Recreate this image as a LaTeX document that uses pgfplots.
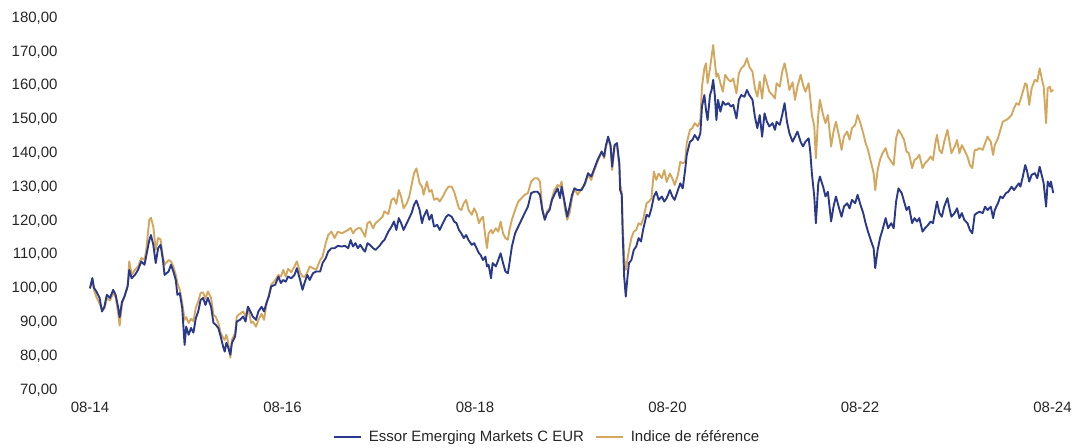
\documentclass[border=0pt]{standalone}
\usepackage{fontspec}
\setmainfont{Liberation Sans}
\usepackage{pgfplots}
\usepackage{pgfplotstable}
\pgfplotsset{compat=1.18}

\definecolor{fundblue}{RGB}{43,57,138}
\definecolor{indexgold}{RGB}{212,167,95}

% months since 08-14, fund, benchmark (base 100)
\pgfplotstableread{
m fund idx
0.0 100.0 100.0
0.3 103.1 102.5
0.5 100.2 99.5
0.8 99.1 97.5
1.2 97.2 95.5
1.5 93.2 93.7
1.8 94.6 94.0
2.1 98.1 97.0
2.5 97.2 96.5
2.9 99.6 98.6
3.2 98.1 97.5
3.5 94.6 93.0
3.7 91.5 89.0
4.0 96.1 95.5
4.3 97.6 97.5
4.7 100.6 101.0
4.9 105.5 108.0
5.2 103.0 104.0
5.6 104.0 105.5
6.0 105.5 106.5
6.4 108.0 109.0
6.8 107.0 108.5
7.0 109.4 111.0
7.4 114.3 120.3
7.6 115.8 120.9
7.9 112.9 118.3
8.2 107.5 111.4
8.5 111.9 114.9
8.8 112.9 114.5
9.1 108.4 109.4
9.3 104.0 107.0
9.8 105.0 108.4
10.1 107.0 108.0
10.4 105.0 106.5
10.7 102.5 104.0
10.9 98.1 101.6
11.2 98.6 99.6
11.5 94.2 95.7
11.8 83.3 90.7
12.0 88.7 91.5
12.3 86.3 89.8
12.6 88.3 91.0
12.9 86.9 90.3
13.2 91.2 94.3
13.5 93.2 96.1
13.8 96.6 98.7
14.1 97.2 98.8
14.4 95.1 97.0
14.7 97.2 99.1
15.1 94.6 97.2
15.4 89.8 92.2
15.7 89.2 91.5
16.0 88.3 89.8
16.3 85.8 86.9
16.6 82.8 85.4
16.8 81.3 84.8
17.0 83.9 86.3
17.2 82.8 84.5
17.5 80.4 79.5
17.7 83.9 84.8
18.1 85.8 86.9
18.3 90.2 91.7
18.7 90.7 92.5
19.1 91.7 93.2
19.4 90.2 91.7
19.7 94.6 94.6
20.1 92.7 89.8
20.3 91.7 90.2
20.7 90.7 88.7
21.0 93.2 90.7
21.4 94.6 92.5
21.7 93.2 90.7
22.0 95.7 95.2
22.3 97.6 98.1
22.6 100.6 101.1
23.1 101.1 102.5
23.5 103.5 104.0
23.8 101.6 103.5
24.1 102.5 105.5
24.4 102.0 103.5
24.7 103.5 105.8
25.1 103.0 104.8
25.5 104.0 106.5
25.8 106.0 108.0
26.2 102.5 104.8
26.5 99.6 103.5
26.8 102.0 103.5
27.1 104.0 104.8
27.4 102.5 106.5
27.8 104.5 106.0
28.2 105.0 105.5
28.7 105.0 108.4
29.0 107.5 109.4
29.4 109.0 113.4
29.7 110.9 115.8
30.1 111.9 116.8
30.5 111.9 114.9
30.9 112.6 116.8
31.4 112.4 116.3
31.8 112.6 116.8
32.2 111.9 117.3
32.5 114.3 117.9
32.8 112.4 116.3
33.1 113.4 117.3
33.4 111.9 117.8
33.7 112.9 117.9
34.1 111.4 116.3
34.3 110.9 115.3
34.6 113.4 119.3
34.9 112.9 119.8
35.3 111.9 117.8
35.6 111.4 119.3
36.1 112.6 120.3
36.5 113.9 121.3
36.7 114.3 122.8
37.2 116.8 122.0
37.6 118.3 126.2
37.9 119.8 126.7
38.2 117.3 125.0
38.5 120.8 129.1
38.8 119.3 127.1
39.1 117.3 123.7
39.5 119.3 125.2
39.8 120.8 127.1
40.1 122.3 130.6
40.4 124.7 134.1
40.7 126.0 135.5
41.1 123.2 131.1
41.4 119.3 130.1
41.6 121.2 127.7
42.0 123.2 131.6
42.3 120.3 128.6
42.6 121.8 129.1
42.9 118.3 126.2
43.3 118.8 126.7
43.6 117.3 125.7
44.0 119.3 127.2
44.4 121.2 129.1
44.7 121.8 130.1
45.1 121.2 130.1
45.4 119.8 128.6
45.7 119.3 126.2
46.0 117.3 123.7
46.3 116.3 123.2
46.6 114.9 125.2
46.9 115.8 126.2
47.2 114.3 123.2
47.6 112.9 121.8
47.9 113.4 123.7
48.2 111.9 122.3
48.5 110.4 119.3
48.7 109.9 120.3
49.0 108.4 121.2
49.3 109.4 115.3
49.5 106.5 111.9
49.7 107.0 116.3
50.0 103.0 117.3
50.2 107.5 116.3
50.6 106.5 117.8
50.9 108.4 116.8
51.2 110.4 119.8
51.5 107.5 116.3
51.8 105.0 114.9
52.1 104.5 114.4
52.3 107.5 117.3
52.6 112.4 120.3
53.0 116.3 123.2
53.4 118.3 125.7
53.8 120.3 126.7
54.2 122.3 127.7
54.6 124.2 128.2
55.0 128.2 131.6
55.4 128.6 132.6
55.8 128.6 132.6
56.1 127.7 131.6
56.4 123.2 123.7
56.7 120.3 120.8
57.0 122.3 122.8
57.3 123.2 123.7
57.6 126.2 126.7
57.9 127.7 129.1
58.3 129.6 130.6
58.6 126.7 130.1
58.8 130.1 131.6
59.2 125.2 123.7
59.5 121.2 120.3
59.8 124.2 122.3
60.1 127.7 126.7
60.4 129.6 129.6
60.8 129.1 127.7
61.3 129.1 129.6
61.7 131.1 130.6
62.1 134.1 133.6
62.5 133.1 132.1
62.9 135.6 135.1
63.3 138.1 137.6
63.8 140.5 140.5
64.1 139.0 138.5
64.3 142.0 141.5
64.6 144.9 144.4
64.9 142.4 142.0
65.1 136.0 135.0
65.4 142.4 142.0
65.7 143.0 142.5
66.0 137.0 136.0
66.1 129.1 130.6
66.3 127.7 128.5
66.4 117.3 120.0
66.6 103.5 108.9
66.8 97.6 105.5
67.0 103.0 108.4
67.2 107.5 111.4
67.5 108.4 114.9
67.8 111.4 116.8
68.1 112.4 117.3
68.4 114.9 119.3
68.7 113.9 118.8
69.0 117.8 120.8
69.4 121.8 125.2
69.7 121.2 125.7
70.0 123.7 126.7
70.3 127.2 134.6
70.6 128.6 132.1
70.9 126.2 134.0
71.3 127.2 132.6
71.6 125.7 135.0
71.9 126.7 131.5
72.3 129.1 134.0
72.6 127.2 132.6
72.9 126.2 130.6
73.3 129.1 133.5
73.6 131.1 137.5
73.9 129.6 137.0
74.2 135.0 137.5
74.4 139.5 143.0
74.8 143.4 146.9
75.1 143.9 147.4
75.4 145.4 148.9
75.8 143.9 147.9
76.1 145.9 149.8
76.3 153.8 159.7
76.6 157.2 165.1
76.8 152.8 166.6
77.0 149.8 160.7
77.3 157.2 165.1
77.5 158.7 168.6
77.7 161.7 172.0
77.9 157.2 167.1
78.1 149.8 162.6
78.3 155.8 163.6
78.6 152.3 160.7
78.9 155.3 158.2
79.2 154.3 163.2
79.6 154.8 161.7
79.9 153.8 161.2
80.2 154.3 162.1
80.6 150.3 157.7
80.9 155.8 163.6
81.2 157.2 165.1
81.6 156.7 166.1
81.9 158.7 168.1
82.2 157.2 165.6
82.6 155.8 164.1
82.9 150.8 159.2
83.2 147.4 156.7
83.5 151.3 161.2
83.8 144.9 156.2
84.1 151.8 163.2
84.4 149.3 160.7
84.7 147.9 158.2
85.1 148.9 157.2
85.4 146.9 156.2
85.6 149.3 160.7
86.0 148.4 159.7
86.3 151.3 164.1
86.6 154.8 166.6
86.9 149.3 163.2
87.2 145.9 158.7
87.6 143.4 161.0
87.9 144.9 155.8
88.2 146.4 159.7
88.6 143.4 163.2
88.9 142.0 160.2
89.2 143.4 158.2
89.6 144.4 160.7
89.8 140.5 156.2
90.0 134.1 151.3
90.3 127.2 148.0
90.5 119.3 138.5
90.8 131.1 151.3
91.0 133.1 155.8
91.4 130.1 151.3
91.7 127.2 148.9
92.0 128.6 151.3
92.4 119.8 142.0
92.7 124.2 146.4
93.0 127.2 149.3
93.4 123.7 145.0
93.7 121.2 141.0
94.0 124.2 145.0
94.4 125.2 146.4
94.7 123.7 144.0
95.0 126.2 147.4
95.4 125.2 148.4
95.7 127.7 151.3
96.0 125.2 149.3
96.4 122.3 145.9
96.7 119.3 143.0
97.0 116.8 141.0
97.4 113.9 137.0
97.7 111.9 134.1
97.9 106.0 129.1
98.2 111.4 135.0
98.5 114.9 138.1
98.8 117.3 140.0
99.2 120.8 141.5
99.5 117.8 139.0
99.9 119.3 137.5
100.2 117.8 136.5
100.5 125.7 144.4
100.8 129.6 146.9
101.2 128.2 145.4
101.5 125.7 143.9
101.8 123.2 140.5
102.1 124.2 140.0
102.5 119.3 135.6
102.8 120.8 138.0
103.1 119.8 138.5
103.4 120.8 139.5
103.8 116.8 135.6
104.1 117.8 137.0
104.5 118.8 138.0
104.8 119.8 139.0
105.1 119.3 138.0
105.4 123.2 143.0
105.6 125.7 145.4
105.9 122.3 141.0
106.2 121.2 140.0
106.5 124.2 143.4
106.9 126.7 146.9
107.2 123.2 142.9
107.4 121.2 140.0
107.8 122.3 141.9
108.1 123.7 143.9
108.4 120.8 140.0
108.7 122.3 142.4
109.0 120.3 141.0
109.4 119.3 139.0
109.7 117.3 136.5
110.0 116.3 135.6
110.3 121.8 141.0
110.6 122.3 141.0
110.9 122.7 141.5
111.3 122.3 141.0
111.6 124.2 143.0
111.9 123.2 144.9
112.3 124.2 143.4
112.6 120.8 139.5
112.8 123.2 142.4
113.2 125.2 144.4
113.5 127.2 146.9
113.8 126.7 149.3
114.2 128.2 149.8
114.5 128.6 150.3
114.9 130.1 151.3
115.2 129.1 153.3
115.5 130.1 154.8
115.8 131.1 154.3
116.0 130.1 155.8
116.3 133.1 158.2
116.6 136.5 160.7
116.8 135.0 160.2
117.1 131.6 154.3
117.4 133.6 159.2
117.8 134.1 161.7
118.1 132.6 161.2
118.4 136.0 165.1
118.7 133.1 161.7
118.9 131.1 159.7
119.2 124.2 148.9
119.4 131.6 159.2
119.7 130.1 159.7
119.8 131.6 158.2
120.1 128.2 158.7
}\perfdata

\begin{document}
\begin{tikzpicture}
\begin{axis}[
    scale only axis,
    width=995pt, height=372pt,
    xmin=-3.6, xmax=120.4,
    ymin=70, ymax=180,
    ytick={70,80,...,180},
    xtick={0,24,48,72,96,120},
    xticklabels={08-14,08-16,08-18,08-20,08-22,08-24},
    axis line style={draw=none},
    major tick length=0pt,
    tick style={draw=none},
    ticklabel style={font=\fontsize{15}{18}\selectfont, text=black!85},
    xticklabel style={yshift=-9pt},
    /pgf/number format/assume math mode=true,
    yticklabel style={/pgf/number format/.cd, fixed, fixed zerofill, precision=2, use comma, 1000 sep={}},
    legend columns=2,
    legend style={at={(axis description cs:0.4887,-0.127)}, anchor=center, draw=none,
        font=\fontsize{15}{18}\selectfont, text=black!85,
        /tikz/every odd column/.append style={column sep=5pt},
        /tikz/every even column/.append style={column sep=9pt}},
    legend image code/.code={\draw[#1] (0pt,0pt) -- (27pt,0pt);},
    clip=false,
]
\addplot[color=indexgold, line width=1.9pt, line join=round, forget plot] table[x=m, y=idx] {\perfdata};
\addplot[color=fundblue, line width=1.9pt, line join=round] table[x=m, y=fund] {\perfdata};
\addlegendentry{Essor Emerging Markets C EUR}
\addlegendimage{color=indexgold, line width=1.9pt}
\addlegendentry{Indice de référence}
\end{axis}
\path (current axis.south west) ++(-61.1pt,-58pt) rectangle ++(1075pt,448pt);
\end{tikzpicture}
\end{document}
